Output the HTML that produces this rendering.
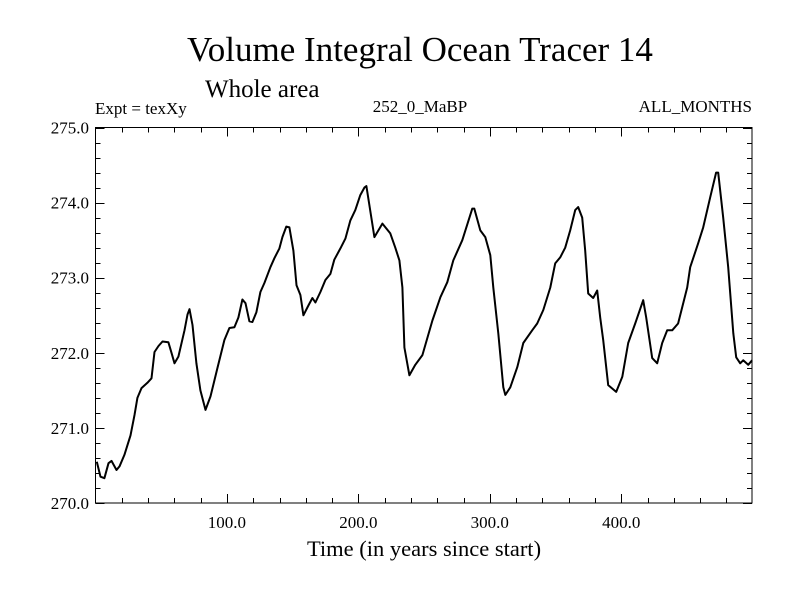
<!DOCTYPE html>
<html><head><meta charset="utf-8"><style>
body{margin:0;background:#fff}
svg{display:block;font-family:"Liberation Serif",serif}
</style></head><body>
<svg id="chart" width="800" height="600">
<text x="420" y="61" font-size="35" text-anchor="middle">Volume Integral Ocean Tracer 14</text>
<text x="205" y="97" font-size="25">Whole area</text>
<text x="95" y="114" font-size="17">Expt = texXy</text>
<text x="420" y="112" font-size="17" text-anchor="middle">252_0_MaBP</text>
<text x="752" y="112" font-size="17" text-anchor="end">ALL_MONTHS</text>
<text x="424" y="556" font-size="22.5" text-anchor="middle">Time (in years since start)</text>
<g id="axes"></g>
<rect x="95.5" y="127.5" width="656.5" height="375.5" fill="none" stroke="#000" stroke-width="1"/>
</svg>
<script>
const years=[1,3.8,6.8,9.9,12.2,16,18.3,22,26.6,29.7,31.9,35,39.5,42.6,44.9,47.9,51,55.5,57.8,60.1,63.1,67.7,70,71.5,73.8,76.8,79.8,83.7,87.5,92.8,98.1,101.9,105.7,108.7,111.8,114.1,117.1,119.4,122.4,125.5,128.5,133.1,136.1,139.9,142.2,145.2,147.5,150.6,152.9,155.9,158.2,162,165,167.3,171.1,174.9,178.7,181.7,186.3,190.1,193.9,197.7,201.5,204.6,206.1,212.2,218.3,224.3,228.1,231.2,233.5,235,238.8,243.3,248.7,256.3,262.4,267.7,272.2,279.1,286.7,288.2,292.8,296.6,300.4,302.7,306.5,310.3,311.8,315.6,320.9,325.5,332.3,336.1,340.7,346,349.8,353.6,357.4,361.2,365,367.3,370.3,372.6,374.9,378.7,381.7,384,386.3,390.1,396.2,400.8,405.3,410.6,416.7,419,423.6,427.4,431.2,435,438.8,443.3,450.2,452.5,458.6,462.4,467.7,472.2,473.8,477.6,481.4,485.3,487.5,490.5,492.8,496.6,499.6];
const values=[270.55,270.35,270.33,270.53,270.56,270.44,270.49,270.64,270.90,271.17,271.40,271.53,271.60,271.66,272.01,272.09,272.15,272.14,272.00,271.86,271.95,272.30,272.51,272.58,272.37,271.86,271.50,271.24,271.42,271.80,272.17,272.33,272.34,272.47,272.71,272.66,272.42,272.41,272.54,272.81,272.93,273.14,273.26,273.39,273.54,273.68,273.67,273.36,272.90,272.77,272.50,272.63,272.73,272.67,272.81,272.97,273.05,273.24,273.39,273.52,273.76,273.90,274.10,274.20,274.22,273.54,273.72,273.59,273.40,273.23,272.87,272.07,271.70,271.84,271.97,272.43,272.74,272.94,273.23,273.50,273.92,273.92,273.63,273.54,273.30,272.87,272.26,271.54,271.44,271.54,271.81,272.13,272.30,272.39,272.57,272.87,273.19,273.27,273.40,273.63,273.90,273.94,273.80,273.36,272.79,272.73,272.83,272.47,272.17,271.57,271.48,271.68,272.13,272.39,272.70,272.47,271.93,271.86,272.13,272.30,272.30,272.39,272.87,273.14,273.46,273.67,274.07,274.40,274.40,273.80,273.14,272.26,271.94,271.86,271.90,271.84,271.90];
const xTicks=[100,200,300,400];
const xTickLabels=["100.0","200.0","300.0","400.0"];
const yTicks=[270,271,272,273,274,275];
const yTickLabels=["270.0","271.0","272.0","273.0","274.0","275.0"];
const X0=95.5,X1=752,Y0=503,Y1=127.5,XMIN=0,XMAX=499.5,YMIN=270,YMAX=275;
const sx=v=>X0+(v-XMIN)/(XMAX-XMIN)*(X1-X0);
const sy=v=>Y0-(v-YMIN)/(YMAX-YMIN)*(Y0-Y1);
const NS="http://www.w3.org/2000/svg";
const g=document.getElementById('axes');
function line(x1,y1,x2,y2,name){const l=document.createElementNS(NS,'line');l.setAttribute('x1',x1);l.setAttribute('y1',y1);l.setAttribute('x2',x2);l.setAttribute('y2',y2);l.setAttribute('stroke','#000');l.setAttribute('stroke-width','1');


g.appendChild(l);}
for(let v=20;v<XMAX;v+=20){const x=Math.round(sx(v))+0.5;const major=v%100===0;const len=major?9:5;line(x,Y0,x,Y0-len,'x-tick');line(x,Y1,x,Y1+len,'x-tick-top');}
for(let i=0;i<=25;i++){const v=YMIN+i*0.2;const y=Math.round(sy(v))+0.5;const major=i%5===0;const len=major?9:5;line(X0,y,X0+len,y,'y-tick');line(X1,y,X1-len,y,'y-tick-right');}
xTicks.forEach((v,i)=>{const t=document.createElementNS(NS,'text');t.setAttribute('x',sx(v));t.setAttribute('y',528);t.setAttribute('font-size','17');t.setAttribute('text-anchor','middle');t.textContent=xTickLabels[i];


g.appendChild(t);});
yTicks.forEach((v,i)=>{const t=document.createElementNS(NS,'text');t.setAttribute('x',89);t.setAttribute('y',sy(v)+6);t.setAttribute('font-size','17');t.setAttribute('text-anchor','end');t.textContent=yTickLabels[i];


g.appendChild(t);});
const p=document.createElementNS(NS,'polyline');
p.setAttribute('points',years.map((y,i)=>sx(y).toFixed(1)+','+sy(values[i]).toFixed(1)).join(' '));
p.setAttribute('fill','none');p.setAttribute('stroke','#000');p.setAttribute('stroke-width','2');p.setAttribute('stroke-linejoin','round');


g.appendChild(p);
</script>
</body></html>
